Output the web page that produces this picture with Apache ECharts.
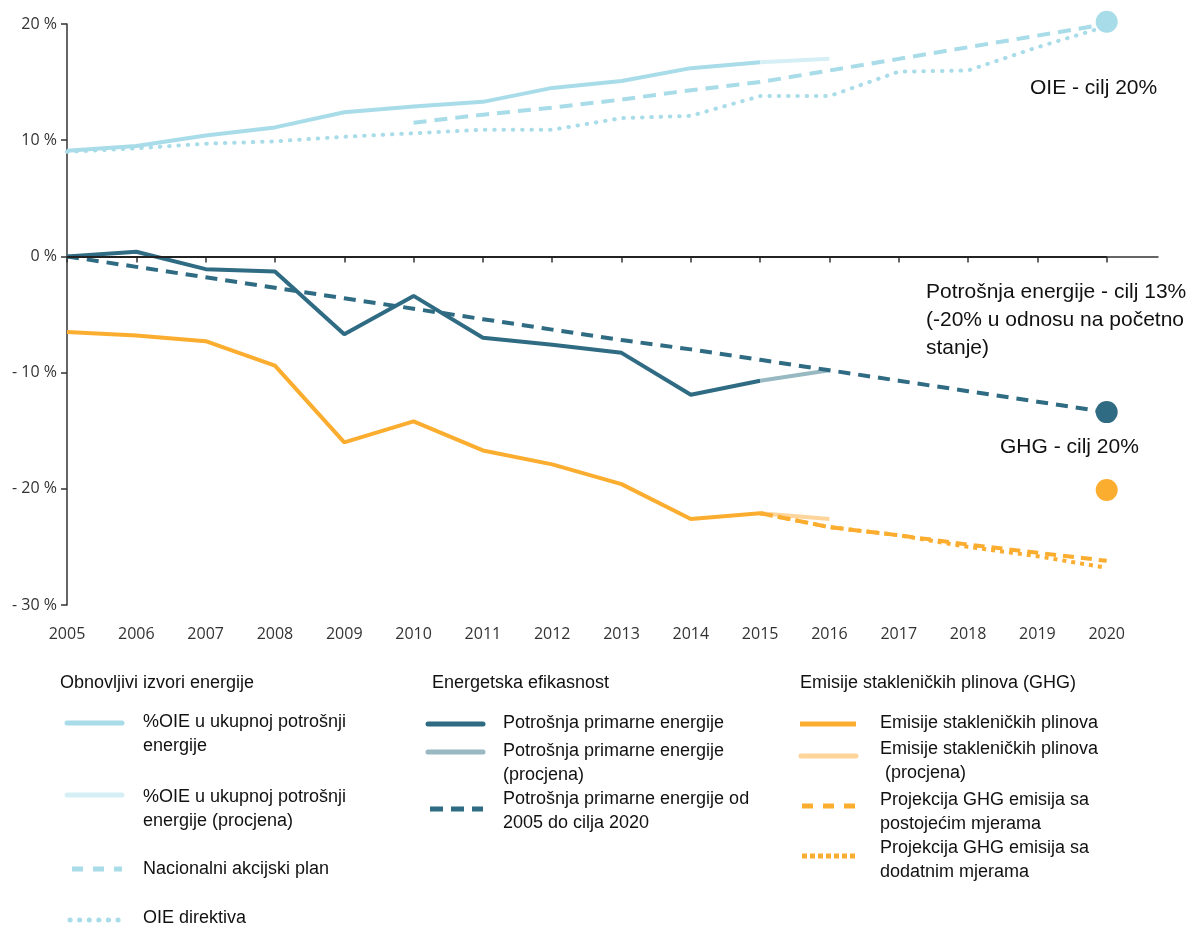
<!DOCTYPE html>
<html>
<head>
<meta charset="utf-8">
<title>OIE, energetska efikasnost i GHG</title>
<script src="https://cdn.jsdelivr.net/npm/echarts@6/dist/echarts.min.js"></script>
<style>
  html, body { margin: 0; padding: 0; background: #fff; }
  #chart { width: 1193px; height: 927px; }
</style>
</head>
<body>
<div id="chart"></div>
<script>
// years on the x axis
const years = [2005, 2006, 2007, 2008, 2009, 2010, 2011, 2012, 2013, 2014, 2015, 2016, 2017, 2018, 2019, 2020];

// renewables (%OIE)
const oieShare = [9.1, 9.5, 10.4, 11.1, 12.4, 12.9, 13.3, 14.5, 15.1, 16.2, 16.7, null, null, null, null, null];
const oieShareEst = [null, null, null, null, null, null, null, null, null, null, 16.7, 17.0, null, null, null, null];
const oieNap = [null, null, null, null, null, 11.5, 12.2, 12.8, 13.5, 14.3, 15.0, 16.0, 17.0, 18.0, 19.0, 20.0];
const oieDirective = [9.0, 9.3, 9.7, 9.9, 10.3, 10.6, 10.9, 10.9, 11.9, 12.1, 13.8, 13.8, 15.9, 16.0, 18.0, 19.8];

// primary energy consumption
const energy = [0, 0.4, -1.1, -1.3, -6.7, -3.4, -7.0, -7.6, -8.3, -11.9, -10.7, null, null, null, null, null];
const energyEst = [null, null, null, null, null, null, null, null, null, null, -10.7, -9.8, null, null, null, null];
const energyPath = [0, -0.9, -1.8, -2.7, -3.6, -4.5, -5.4, -6.3, -7.2, -8.0, -8.9, -9.8, -10.7, -11.6, -12.5, -13.4];

// greenhouse gas emissions
const ghg = [-6.5, -6.8, -7.3, -9.4, -16.0, -14.2, -16.7, -17.9, -19.6, -22.6, -22.1, null, null, null, null, null];
const ghgEst = [null, null, null, null, null, null, null, null, null, null, -22.1, -22.6, null, null, null, null];
const ghgExisting = [null, null, null, null, null, null, null, null, null, null, -22.1, -23.3, -24.0, -24.8, -25.5, -26.2];
const ghgAdditional = [null, null, null, null, null, null, null, null, null, null, -22.1, -23.3, -24.0, -25.0, -25.8, -26.8];

// 2020 targets
const targetYear = 2020;
const oieTarget = 20.2;
const energyTarget = -13.4;
const ghgTarget = -20.1;

const yTicks = [-30, -20, -10, 0, 10, 20];

const LIGHT = '#a8dce8', LIGHT_EST = '#d6eff5';
const TEAL = '#2f6b82', TEAL_EST = '#98b8c2';
const ORANGE = '#fbad30', ORANGE_EST = '#fdd49a';

const pairs = (vals) => years.map((y, i) => [y, vals[i]]).filter(p => p[1] !== null);

const line = (name, vals, color, type, z, cap) => ({
  name: name,
  type: 'line',
  data: pairs(vals),
  symbol: 'none',
  z: z || 2,
  lineStyle: { color: color, width: 4, type: type || 'solid', cap: cap || 'butt' }
});

const series = [
  line('%OIE u ukupnoj potrošnji energije', oieShare, LIGHT),
  line('%OIE (procjena)', oieShareEst, LIGHT_EST),
  line('Nacionalni akcijski plan', oieNap, LIGHT, [13, 8]),
  line('OIE direktiva', oieDirective, LIGHT, [0.5, 8.8], 2, 'round'),
  line('Potrošnja primarne energije', energy, TEAL),
  line('Potrošnja primarne energije (procjena)', energyEst, TEAL_EST),
  line('Potrošnja primarne energije od 2005 do cilja 2020', energyPath, TEAL, [12, 8], 3),
  line('Emisije stakleničkih plinova', ghg, ORANGE),
  line('Emisije stakleničkih plinova (procjena)', ghgEst, ORANGE_EST),
  line('Projekcija GHG emisija sa postojećim mjerama', ghgExisting, ORANGE, [11, 7], 3),
  line('Projekcija GHG emisija sa dodatnim mjerama', ghgAdditional, ORANGE, [4, 5], 3)
];

series.push({
  name: 'ciljevi',
  type: 'scatter',
  symbolSize: 22,
  clip: false,
  z: 5,
  itemStyle: { opacity: 1 },
  data: [
    { value: [targetYear, oieTarget], itemStyle: { color: LIGHT, opacity: 1 } },
    { value: [targetYear, energyTarget], itemStyle: { color: TEAL, opacity: 1 } },
    { value: [targetYear, ghgTarget], itemStyle: { color: ORANGE, opacity: 1 } }
  ]
});

// zero line
series.push({
  name: 'nula',
  type: 'line',
  data: [],
  markLine: {
    silent: true,
    symbol: 'none',
    label: { show: false },
    lineStyle: { color: '#222', width: 2, type: 'solid' },
    data: [[{ coord: [years[0], 0] }, { coord: [targetYear, 0] }]]
  }
});

const txt = (x, y, text, size, lh) => ({
  type: 'text',
  left: x,
  top: y,
  style: {
    text: text,
    font: (size || 18) + 'px "Liberation Sans", Arial, sans-serif',
    fill: '#111',
    lineHeight: lh || 24
  }
});

const icon = (x1, x2, y, color, dash, cap) => ({
  type: 'line',
  shape: { x1: x1, y1: y, x2: x2, y2: y },
  style: { stroke: color, lineWidth: 5, lineDash: dash || null, lineCap: cap || 'butt' }
});

const graphics = [
  // annotations next to the targets
  txt(1030, 74, 'OIE - cilj 20%', 21, 28),
  txt(926, 278, 'Potrošnja energije - cilj 13%\n(-20% u odnosu na početno\nstanje)', 21, 28),
  txt(1000, 433, 'GHG - cilj 20%', 21, 28),

  // legend column 1
  txt(60, 671, 'Obnovljivi izvori energije'),
  icon(67, 122, 723, LIGHT, null, 'round'),
  txt(143, 710, '%OIE u ukupnoj potrošnji\nenergije'),
  icon(67, 122, 795, LIGHT_EST, null, 'round'),
  txt(143, 785, '%OIE u ukupnoj potrošnji\nenergije (procjena)'),
  icon(72, 122, 869, LIGHT, [11, 10]),
  txt(143, 857, 'Nacionalni akcijski plan'),
  icon(70, 122, 920, LIGHT, [0.1, 9.5], 'round'),
  txt(143, 906, 'OIE direktiva'),

  // legend column 2
  txt(432, 671, 'Energetska efikasnost'),
  icon(428, 483, 724, TEAL, null, 'round'),
  txt(503, 711, 'Potrošnja primarne energije'),
  icon(428, 483, 752, TEAL_EST, null, 'round'),
  txt(503, 739, 'Potrošnja primarne energije\n(procjena)'),
  icon(430, 483, 809, TEAL, [13, 8]),
  txt(503, 787, 'Potrošnja primarne energije od\n2005 do cilja 2020'),

  // legend column 3
  txt(800, 671, 'Emisije stakleničkih plinova (GHG)'),
  icon(800, 856, 724, ORANGE),
  txt(880, 711, 'Emisije stakleničkih plinova'),
  icon(801, 856, 756, ORANGE_EST, null, 'round'),
  txt(880, 737, 'Emisije stakleničkih plinova\n (procjena)'),
  icon(802, 856, 806, ORANGE, [11, 10]),
  txt(880, 788, 'Projekcija GHG emisija sa\npostojećim mjerama'),
  icon(802, 856, 856, ORANGE, [5, 3]),
  txt(880, 836, 'Projekcija GHG emisija sa\ndodatnim mjerama')
];

const option = {
  animation: false,
  backgroundColor: '#fff',
  grid: { left: 67, right: 35, top: 24, bottom: 322, containLabel: false },
  xAxis: {
    type: 'value',
    min: years[0],
    max: 2020.74,
    interval: 1,
    splitLine: { show: false },
    axisLine: { show: true, lineStyle: { color: '#333', width: 1.5 } },
    axisTick: { show: true, length: 6, lineStyle: { color: '#333', width: 1.5 } },
    axisLabel: {
      margin: 21,
      color: '#333',
      fontSize: 16,
      fontFamily: '"Open Sans", sans-serif',
      showMaxLabel: false,
      formatter: (v) => (Number.isInteger(v) ? String(v) : '')
    }
  },
  yAxis: {
    type: 'value',
    min: yTicks[0],
    max: yTicks[yTicks.length - 1],
    interval: 10,
    splitLine: { show: false },
    axisLine: { show: true, lineStyle: { color: '#333', width: 1.5 } },
    axisTick: { show: true, length: 6, lineStyle: { color: '#333', width: 1.5 } },
    axisLabel: {
      margin: 10,
      color: '#333',
      fontSize: 16,
      fontFamily: '"Open Sans", sans-serif',
      formatter: (v) => (v < 0 ? '- ' + Math.abs(v) + ' %' : v + ' %')
    }
  },
  series: series,
  graphic: graphics
};

const chart = echarts.init(document.getElementById('chart'), null, { renderer: 'canvas' });
chart.setOption(option);
</script>
</body>
</html>
